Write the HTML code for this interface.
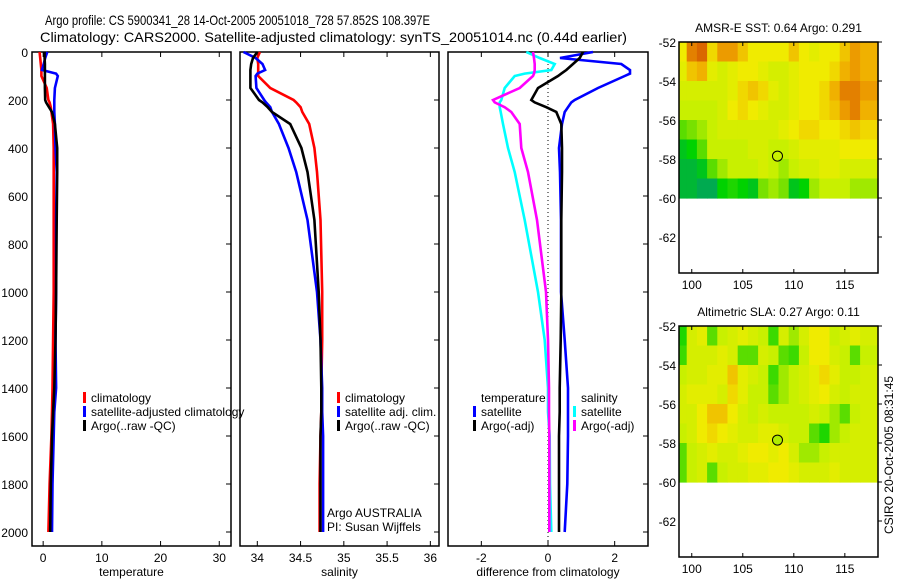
<!DOCTYPE html>
<html><head><meta charset="utf-8"><style>
html,body{margin:0;padding:0;background:#fff;}
svg{display:block;font-family:"Liberation Sans",sans-serif;}
</style></head><body>
<svg id="fig" width="900" height="580" viewBox="0 0 900 580" xmlns="http://www.w3.org/2000/svg">
<text x="45" y="25" font-size="14" textLength="385" lengthAdjust="spacingAndGlyphs">Argo profile: CS 5900341_28 14-Oct-2005 20051018_728 57.852S 108.397E</text>
<text x="40" y="42" font-size="14" textLength="587" lengthAdjust="spacingAndGlyphs">Climatology: CARS2000. Satellite-adjusted climatology: synTS_20051014.nc (0.44d earlier)</text>
<text transform="translate(893,455) rotate(-90)" font-size="12" text-anchor="middle">CSIRO 20-Oct-2005 08:31:45</text>
<g id="plots"></g>
</svg>
<script>
// ---- profile data (depth in m) ----
const tDepth = [0,25,50,75,90,100,150,200,210,230,250,300,400,500,700,1000,1200,1400,1500,1600,1800,2000];
const tClim  = [-0.6,-0.5,-0.4,-0.3,-0.3,-0.3,0.6,0.9,1.1,1.3,1.4,1.7,1.8,1.8,1.8,1.8,1.7,1.6,1.5,1.4,1.1,0.9];
const tSat   = [0.7,0.35,0.1,-0.2,2.2,2.5,2.0,1.9,1.9,1.9,1.9,2.0,2.1,2.3,2.2,2.2,2.1,2.2,1.9,1.8,1.6,1.5];
const tArgo  = [0.25,0.25,0.3,0.3,0.3,0.3,0.3,0.35,0.5,1.0,1.5,2.0,2.4,2.4,2.3,2.2,2.1,1.9,1.7,1.5,1.3,1.2];
const sClim  = [34.03,34.0,34.01,34.01,34.01,34.01,34.15,34.42,34.45,34.5,34.52,34.60,34.66,34.69,34.73,34.75,34.75,34.74,34.74,34.73,34.72,34.72];
const sSat   = [33.84,33.98,34.06,34.09,34.0,33.98,33.99,34.08,34.1,34.15,34.17,34.25,34.36,34.45,34.58,34.69,34.73,34.75,34.75,34.76,34.76,34.76];
const sArgo  = [34.0,33.95,33.93,33.92,33.92,33.92,33.92,34.02,34.06,34.12,34.17,34.38,34.51,34.58,34.66,34.71,34.73,34.74,34.74,34.73,34.73,34.73];
const dTSat  = [1.35,0.36,2.2,2.46,2.46,2.3,1.5,0.8,0.7,0.6,0.5,0.42,0.33,0.36,0.39,0.39,0.5,0.6,0.6,0.6,0.58,0.5];
const dTArgo = [1.05,0.95,0.75,0.55,0.4,0.3,-0.3,-0.5,-0.4,-0.05,0.25,0.4,0.42,0.42,0.4,0.4,0.38,0.35,0.35,0.33,0.33,0.33];
const dSSat  = [-0.65,-0.25,0.2,0.1,-0.7,-1.0,-1.3,-1.4,-1.45,-1.45,-1.42,-1.35,-1.2,-1.0,-0.7,-0.3,-0.1,0.0,0.0,0.05,0.06,0.1];
const dSArgo = [-0.45,-0.42,-0.4,-0.4,-0.42,-0.45,-0.85,-1.65,-1.6,-1.3,-1.1,-0.85,-0.8,-0.6,-0.33,-0.06,0.0,0.03,0.03,0.04,0.04,0.04];
const tTicks = [0,10,20,30], sTicks=[34,34.5,35,35.5,36], dTicks=[-2,0,2];
const depthTicks = [0,200,400,600,800,1000,1200,1400,1600,1800,2000];
// ---- map data (rows lat -52..-60, cols lon 99..117) ----
const mapLats = [-52,-53,-54,-55,-56,-57,-58,-59];
const mapLons = [99,100,101,102,103,104,105,106,107,108,109,110,111,112,113,114,115,116,117];
const sstVals = [
[0.6,0.85,0.9,0.65,0.8,0.8,0.7,0.6,0.6,0.6,0.6,0.7,0.6,0.55,0.6,0.6,0.7,0.8,0.75],
[0.55,0.7,0.75,0.55,0.5,0.55,0.6,0.6,0.55,0.5,0.5,0.55,0.6,0.6,0.6,0.65,0.75,0.8,0.75],
[0.5,0.5,0.5,0.5,0.5,0.55,0.65,0.7,0.65,0.55,0.5,0.55,0.6,0.6,0.65,0.75,0.85,0.85,0.8],
[0.45,0.45,0.45,0.45,0.5,0.6,0.65,0.6,0.55,0.5,0.5,0.55,0.6,0.6,0.65,0.7,0.8,0.85,0.75],
[0.3,0.35,0.4,0.45,0.5,0.5,0.5,0.5,0.5,0.5,0.55,0.6,0.65,0.65,0.6,0.6,0.65,0.7,0.65],
[0.1,0.15,0.3,0.45,0.45,0.45,0.45,0.5,0.5,0.45,0.45,0.5,0.55,0.55,0.55,0.55,0.6,0.6,0.6],
[0.05,0.05,0.1,0.3,0.4,0.45,0.45,0.45,0.5,0.45,0.4,0.45,0.5,0.5,0.55,0.55,0.5,0.5,0.5],
[0.05,0.05,0.0,0.0,0.15,0.2,0.15,0.1,0.35,0.4,0.35,0.1,0.15,0.4,0.45,0.45,0.45,0.4,0.4]];
const slaVals = [
[0.2,0.5,0.55,0.3,0.45,0.5,0.55,0.5,0.45,0.25,0.5,0.4,0.5,0.6,0.6,0.45,0.5,0.55,0.5],
[0.25,0.5,0.5,0.5,0.55,0.5,0.3,0.3,0.5,0.45,0.3,0.25,0.45,0.6,0.6,0.5,0.45,0.3,0.45],
[0.45,0.5,0.5,0.55,0.55,0.7,0.55,0.5,0.45,0.25,0.4,0.45,0.5,0.55,0.65,0.55,0.45,0.45,0.5],
[0.5,0.55,0.55,0.55,0.5,0.65,0.55,0.45,0.45,0.3,0.4,0.45,0.5,0.55,0.6,0.5,0.45,0.5,0.5],
[0.5,0.5,0.6,0.7,0.7,0.6,0.5,0.45,0.5,0.45,0.45,0.45,0.45,0.5,0.45,0.4,0.3,0.45,0.5],
[0.45,0.5,0.6,0.65,0.6,0.55,0.5,0.5,0.55,0.55,0.5,0.45,0.45,0.3,0.2,0.4,0.45,0.5,0.5],
[0.3,0.45,0.5,0.55,0.5,0.5,0.55,0.6,0.6,0.55,0.6,0.5,0.4,0.4,0.45,0.5,0.5,0.5,0.5],
[0.3,0.45,0.5,0.3,0.45,0.5,0.5,0.55,0.55,0.6,0.6,0.55,0.5,0.5,0.5,0.55,0.5,0.5,0.5]];
const floatLon = 108.4, floatLat = -57.85;
const lonTicks=[100,105,110,115], latTicks=[-52,-54,-56,-58,-60,-62];

const NS="http://www.w3.org/2000/svg";
const root=document.getElementById('plots');
function mk(tag,attrs,parent){const e=document.createElementNS(NS,tag);for(const k in attrs)e.setAttribute(k,attrs[k]);(parent||root).appendChild(e);return e;}
const Y0=52, Y1=546;
function yD(d){return Y0+d*0.24;}

function panel(name,x0,x1,vmin,vmax,ticks,xlabel,showDepth){
  const g=mk('g',{});
  
  
  const sx=v=>x0+(v-vmin)/(vmax-vmin)*(x1-x0);
  const fr=mk('rect',{x:x0,y:Y0,width:x1-x0,height:Y1-Y0,fill:'none',stroke:'#000','stroke-width':1.5},g);
  
  
  ticks.forEach(t=>{
    const x=sx(t);
    mk('line',{x1:x,x2:x,y1:Y0,y2:Y0+5,stroke:'#000'},g);
    mk('line',{x1:x,x2:x,y1:Y1,y2:Y1-5,stroke:'#000'},g);
    const tl=mk('text',{x:x,y:Y1+16,'font-size':12,'text-anchor':'middle'},g);
    tl.textContent=String(t);
    
    
  });
  depthTicks.forEach(d=>{
    mk('line',{x1:x1,x2:x1-5,y1:yD(d),y2:yD(d),stroke:'#000'},g);
    if(showDepth){
      const tl=mk('text',{x:x0-4,y:yD(d)+5,'font-size':12,'text-anchor':'end'},g);
      tl.textContent=String(d);
      
      
    }
  });
  const xl=mk('text',{x:(x0+x1)/2,y:Y1+30,'font-size':12,'text-anchor':'middle'},g);
  xl.textContent=xlabel;
  
  
  return {g,sx};
}
function series(p,vals,color,name){
  let d='';
  vals.forEach((v,i)=>{d+=(i?'L':'M')+p.sx(v).toFixed(1)+','+yD(tDepth[i]).toFixed(1);});
  const pa=mk('path',{d:d,fill:'none',stroke:color,'stroke-width':2.6},p.g);
  
  
}
function legend(p,x,y,color,label){
  if(color){
    const m=mk('rect',{x:x,y:y-10,width:3,height:11,fill:color},p.g);
    
    
  }
  const t=mk('text',{x:x+8,y:y,'font-size':12},p.g);
  t.textContent=label;
  
  
}

const p1=panel('temperature-panel',32,231,-1.9,32,tTicks,'temperature',true);
series(p1,tClim,'#f00','temperature-climatology-line');
series(p1,tSat,'#00f','temperature-satellite-line');
series(p1,tArgo,'#000','temperature-argo-line');
legend(p1,83,402,'#f00','climatology');
legend(p1,83,416,'#00f','satellite-adjusted climatology');
legend(p1,83,430,'#000','Argo(..raw -QC)');

const p2=panel('salinity-panel',240,439,33.8,36.1,sTicks,'salinity',false);
series(p2,sClim,'#f00','salinity-climatology-line');
series(p2,sSat,'#00f','salinity-satellite-line');
series(p2,sArgo,'#000','salinity-argo-line');
legend(p2,337,402,'#f00','climatology');
legend(p2,337,416,'#00f','satellite adj. clim.');
legend(p2,337,430,'#000','Argo(..raw -QC)');
const au=mk('text',{x:327,y:517,'font-size':12},p2.g);au.textContent='Argo AUSTRALIA';


const pi=mk('text',{x:327,y:531,'font-size':12},p2.g);pi.textContent='PI: Susan Wijffels';



const p3=panel('difference-panel',448,648,-3,3,dTicks,'difference from climatology',false);
mk('line',{x1:p3.sx(0),x2:p3.sx(0),y1:Y0,y2:Y1,stroke:'#000','stroke-dasharray':'1,3'},p3.g);
series(p3,dSSat,'#0ff','salinity-diff-satellite-line');
series(p3,dSArgo,'#f0f','salinity-diff-argo-line');
series(p3,dTSat,'#00f','temperature-diff-satellite-line');
series(p3,dTArgo,'#000','temperature-diff-argo-line');
legend(p3,473,402,null,'temperature');
legend(p3,473,416,'#00f','satellite');
legend(p3,473,430,'#000','Argo(-adj)');
legend(p3,573,402,null,'salinity');
legend(p3,573,416,'#0ff','satellite');
legend(p3,573,430,'#f0f','Argo(-adj)');

function cmap(v){
  const st=[[0,[0,170,80]],[0.15,[0,210,0]],[0.35,[120,225,0]],[0.45,[200,240,0]],[0.6,[240,235,0]],[0.78,[240,165,0]],[1,[200,50,0]]];
  for(let i=1;i<st.length;i++){if(v<=st[i][0]){const a=st[i-1],b=st[i];const f=(v-a[0])/(b[0]-a[0]);
    return 'rgb('+a[1].map((c,k)=>Math.round(c+(b[1][k]-c)*f)).join(',')+')';}}
  return 'rgb(200,50,0)';
}
function mapPanel(name,top,title,vals,circFill){
  const x0=679,x1=878,lon0=98.75,lon1=118.25,bot=top+231;
  const sx=l=>x0+(l-lon0)/(lon1-lon0)*(x1-x0);
  const sy=la=>top+(-52-la)*19.5;
  const g=mk('g',{});
  
  
  const t=mk('text',{x:(x0+x1)/2,y:top-10,'font-size':12,'text-anchor':'middle'},g);
  t.textContent=title;
  
  
  vals.forEach((row,r)=>row.forEach((v,c)=>{
    const la=mapLats[r],lo=mapLons[c];
    const xa=c===0?x0:sx(lo-0.5), xb=c===row.length-1?x1:sx(lo+0.5);
    const cell=mk('rect',{x:xa.toFixed(1),y:sy(la).toFixed(1),width:(xb-xa+0.6).toFixed(1),height:(19.5+0.6).toFixed(1),fill:cmap(v)},g);
    
    
  }));
  const fr=mk('rect',{x:x0,y:top,width:x1-x0,height:bot-top,fill:'none',stroke:'#000','stroke-width':1.5},g);
  
  
  lonTicks.forEach(l=>{
    mk('line',{x1:sx(l),x2:sx(l),y1:top,y2:top+4,stroke:'#000'},g);
    mk('line',{x1:sx(l),x2:sx(l),y1:bot,y2:bot-4,stroke:'#000'},g);
    const tl=mk('text',{x:sx(l),y:bot+16,'font-size':12,'text-anchor':'middle'},g);tl.textContent=String(l);
    
    
  });
  latTicks.forEach(la=>{
    mk('line',{x1:x1,x2:x1+4,y1:sy(la),y2:sy(la),stroke:'#000'},g);
    const tl=mk('text',{x:x0-3,y:sy(la)+5,'font-size':12,'text-anchor':'end'},g);tl.textContent=String(la);
    
    
  });
  const c=mk('circle',{cx:sx(floatLon),cy:sy(floatLat),r:5,fill:circFill,stroke:'#000','stroke-width':1},g);
  
  
}
mapPanel('sst-map',42,'AMSR-E SST: 0.64 Argo: 0.291',sstVals,'none');
mapPanel('sla-map',326,'Altimetric SLA: 0.27 Argo: 0.11',slaVals,cmap(0.42));
</script>
</body></html>
